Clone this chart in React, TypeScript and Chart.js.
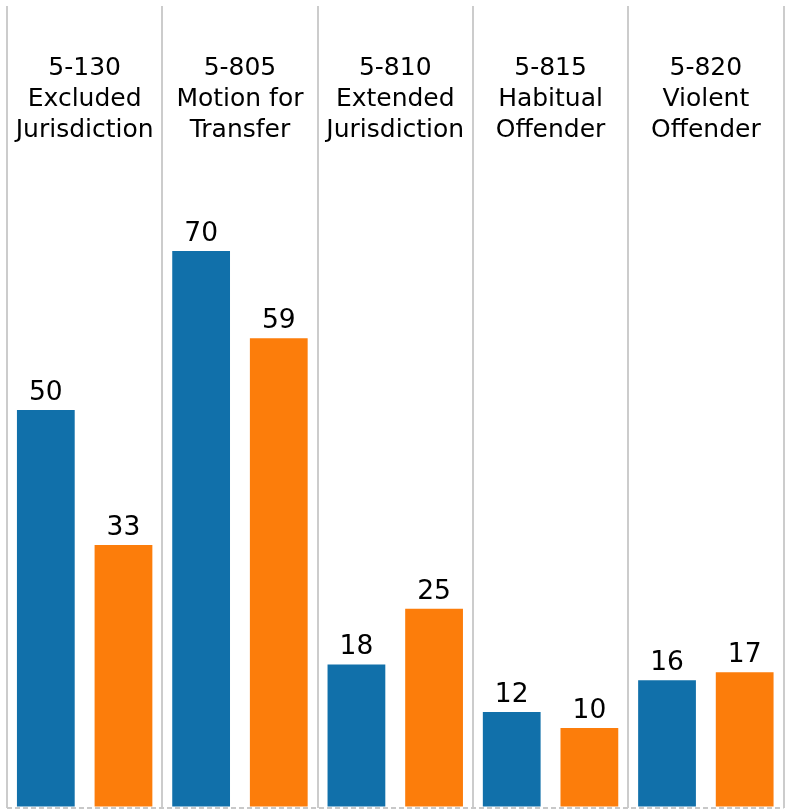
import React, { useEffect, useRef } from "react";
import { Chart, registerables } from "chart.js";

Chart.register(...registerables);

const categories: string[][] = [
  ["5-130", "Excluded", "Jurisdiction"],
  ["5-805", "Motion for", "Transfer"],
  ["5-810", "Extended", "Jurisdiction"],
  ["5-815", "Habitual", "Offender"],
  ["5-820", "Violent", "Offender"],
];
const seriesANames = "Series A";
const seriesBNames = "Series B";
const seriesA: number[] = [50, 70, 18, 12, 16];
const seriesB: number[] = [33, 59, 25, 10, 17];

const BLUE = "#1170AA";
const ORANGE = "#FC7D0B";
const FONT = "25px 'DejaVu Sans'";
const VALUE_FONT = "26.5px 'DejaVu Sans'";

const labelsPlugin = {
  id: "customLabels",
  afterDatasetsDraw(chart: any) {
    const ctx = chart.ctx;
    const xScale = chart.scales.x;
    ctx.save();
    ctx.fillStyle = "#000";
    ctx.font = FONT;
    ctx.textAlign = "center";
    ctx.textBaseline = "alphabetic";
    // category labels
    categories.forEach((lines, i) => {
      const x = xScale.getPixelForValue(i);
      lines.forEach((line, j) => {
        ctx.fillText(line, x, 75 + j * 30.8);
      });
    });
    // value labels
    ctx.font = VALUE_FONT;
    chart.data.datasets.forEach((ds: any, di: number) => {
      const meta = chart.getDatasetMeta(di);
      meta.data.forEach((bar: any, i: number) => {
        ctx.fillText(String(ds.data[i]), bar.x, bar.y - 10);
      });
    });
    ctx.restore();
  },
};

export default function App() {
  const ref = useRef<HTMLCanvasElement | null>(null);
  useEffect(() => {
    if (!ref.current) return;
    const chart = new Chart(ref.current, {
      type: "bar",
      data: {
        labels: categories.map((c) => c.join(" ")),
        datasets: [
          {
            label: seriesANames,
            data: seriesA,
            backgroundColor: BLUE,
            categoryPercentage: 1.0,
            barPercentage: 0.744,
          },
          {
            label: seriesBNames,
            data: seriesB,
            backgroundColor: ORANGE,
            categoryPercentage: 1.0,
            barPercentage: 0.744,
          },
        ],
      },
      options: {
        animation: false,
        responsive: false,
        maintainAspectRatio: false,
        layout: { padding: { top: 6, left: 7, right: 4.5, bottom: 1.5 } },
        plugins: {
          legend: { display: false },
          tooltip: { enabled: false },
        },
        scales: {
          x: {
            offset: true,
            ticks: { display: false },
            border: { display: false },
            grid: {
              offset: true,
              color: "#cccccc",
              lineWidth: 2,
              drawTicks: false,
            },
          },
          y: {
            min: 0,
            max: 100.8,
            ticks: { display: false, stepSize: 100.8 },
            border: { display: false, dash: [5, 3] },
            grid: {
              drawTicks: false,
              lineWidth: 2,
              color: (c: any) =>
                c.tick && c.tick.value === 0 ? "#c8c8c8" : "rgba(0,0,0,0)",
            },
          },
        },
      },
      plugins: [labelsPlugin],
    });
    return () => chart.destroy();
  }, []);
  return (
    <div
      style={{
        position: "fixed",
        left: 0,
        top: 0,
        width: 788,
        height: 809,
        background: "#fff",
      }}
    >
      <canvas ref={ref} width={788} height={809} style={{ display: "block" }} />
    </div>
  );
}
